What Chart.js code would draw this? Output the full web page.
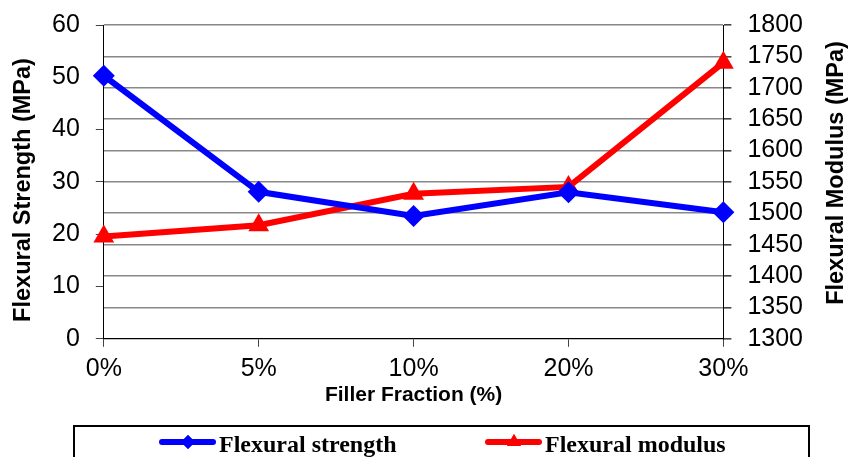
<!DOCTYPE html>
<html>
<head>
<meta charset="utf-8">
<title>Flexural strength and modulus</title>
<script src="https://cdn.jsdelivr.net/npm/chart.js@4.4.0/dist/chart.umd.min.js"></script>
<style>
  html, body { margin: 0; padding: 0; background: #fff; }
  #wrap { width: 852px; height: 457px; }
</style>
</head>
<body>
<div id="wrap"><canvas id="chart" width="852" height="457"></canvas></div>
<script>
// Data.
const fractions = ['0%', '5%', '10%', '20%', '30%'];
const strength = [50.3, 28.1, 23.5, 28.0, 24.2];   // MPa, left axis
const modulus = [1463, 1481, 1531, 1542, 1740];    // MPa, right axis
const strengthTicks = [0, 10, 20, 30, 40, 50, 60];
const modulusTicks = [1300, 1350, 1400, 1450, 1500, 1550, 1600, 1650, 1700, 1750, 1800];

const SANS = 'Arial, "Liberation Sans", sans-serif';
const SERIF = '"Times New Roman", "Liberation Serif", serif';

// Axis titles and the boxed legend are drawn by hand to match the Excel look.
const extras = {
  id: 'extras',
  afterDraw: function (chart) {
    const ctx = chart.ctx;
    ctx.save();
    ctx.fillStyle = '#000';
    ctx.font = 'bold 23.5px ' + SANS;
    ctx.textAlign = 'center';
    ctx.textBaseline = 'middle';

    ctx.save();
    ctx.translate(24, 190);
    ctx.rotate(-Math.PI / 2);
    ctx.fillText('Flexural Strength (MPa)', 0, 0);
    ctx.restore();

    ctx.save();
    ctx.translate(837, 173);
    ctx.rotate(-Math.PI / 2);
    ctx.fillText('Flexural Modulus (MPa)', 0, 0);
    ctx.restore();

    // legend box
    ctx.strokeStyle = '#000';
    ctx.lineWidth = 2;
    ctx.strokeRect(74, 426, 735, 60);

    const items = [
      { x: 159, color: '#0000ff', style: 'rectRot', radius: 7, text: 'Flexural strength' },
      { x: 485, color: '#ff0000', style: 'triangle', radius: 8, text: 'Flexural modulus' },
    ];
    items.forEach(function (it) {
      const y = 442;
      ctx.strokeStyle = it.color;
      ctx.fillStyle = it.color;
      ctx.lineWidth = 6;
      ctx.lineCap = 'round';
      ctx.beginPath();
      ctx.moveTo(it.x + 3, y);
      ctx.lineTo(it.x + 54, y);
      ctx.stroke();
      Chart.helpers.drawPoint(ctx, { pointStyle: it.style, radius: it.radius, borderWidth: 0 }, it.x + 29, y);
      ctx.fill();
      ctx.fillStyle = '#000';
      ctx.font = 'bold 24px ' + SERIF;
      ctx.textAlign = 'left';
      ctx.textBaseline = 'alphabetic';
      ctx.fillText(it.text, it.x + 60, 452);
    });
    ctx.restore();
  }
};

new Chart(document.getElementById('chart').getContext('2d'), {
  type: 'line',
  data: {
    labels: fractions,
    datasets: [
      {
        label: 'Flexural strength',
        data: strength,
        yAxisID: 'y',
        borderColor: '#0000ff',
        backgroundColor: '#0000ff',
        borderWidth: 6,
        pointStyle: 'rectRot',
        pointRadius: 11,
        pointBorderWidth: 0,
        tension: 0,
        clip: false,
      },
      {
        label: 'Flexural modulus',
        data: modulus,
        yAxisID: 'y1',
        borderColor: '#ff0000',
        backgroundColor: '#ff0000',
        borderWidth: 6,
        pointStyle: 'triangle',
        pointRadius: 12,
        pointBorderWidth: 0,
        tension: 0,
        clip: false,
      },
    ],
  },
  options: {
    responsive: false,
    animation: false,
    devicePixelRatio: 1,
    layout: {
      padding: { left: 36, right: 33, top: 0, bottom: 49 },
    },
    plugins: {
      legend: { display: false },
      tooltip: { enabled: false },
    },
    scales: {
      x: {
        offset: false,
        border: { color: '#000', width: 1 },
        grid: { drawOnChartArea: false, tickLength: 8, tickColor: '#444' },
        ticks: {
          color: '#000',
          padding: 7,
          maxRotation: 0,
          autoSkip: false,
          font: { family: SANS, size: 25 },
        },
        title: {
          display: true,
          text: 'Filler Fraction (%)',
          color: '#000',
          padding: { top: -8, bottom: 0 },
          font: { family: SANS, size: 21, weight: 'bold' },
        },
      },
      y: {
        position: 'left',
        min: strengthTicks[0],
        max: strengthTicks[strengthTicks.length - 1],
        afterBuildTicks: function (axis) {
          axis.ticks = strengthTicks.map(v => ({ value: v }));
        },
        border: { color: '#000', width: 1 },
        grid: { drawOnChartArea: false, tickLength: 8, tickColor: '#444' },
        ticks: {
          color: '#000',
          padding: 16,
          autoSkip: false,
          callback: v => String(v),
          font: { family: SANS, size: 25, lineHeight: 0.72 },
        },
      },
      y1: {
        position: 'right',
        min: modulusTicks[0],
        max: modulusTicks[modulusTicks.length - 1],
        afterBuildTicks: function (axis) {
          axis.ticks = modulusTicks.map(v => ({ value: v }));
        },
        border: { color: '#000', width: 1 },
        grid: { color: '#888888', lineWidth: 1.6, tickLength: 8, tickColor: '#444' },
        ticks: {
          color: '#000',
          padding: 16,
          autoSkip: false,
          callback: v => String(v),
          font: { family: SANS, size: 25, lineHeight: 0.72 },
        },
      },
    },
  },
  plugins: [extras],
});
</script>
</body>
</html>
